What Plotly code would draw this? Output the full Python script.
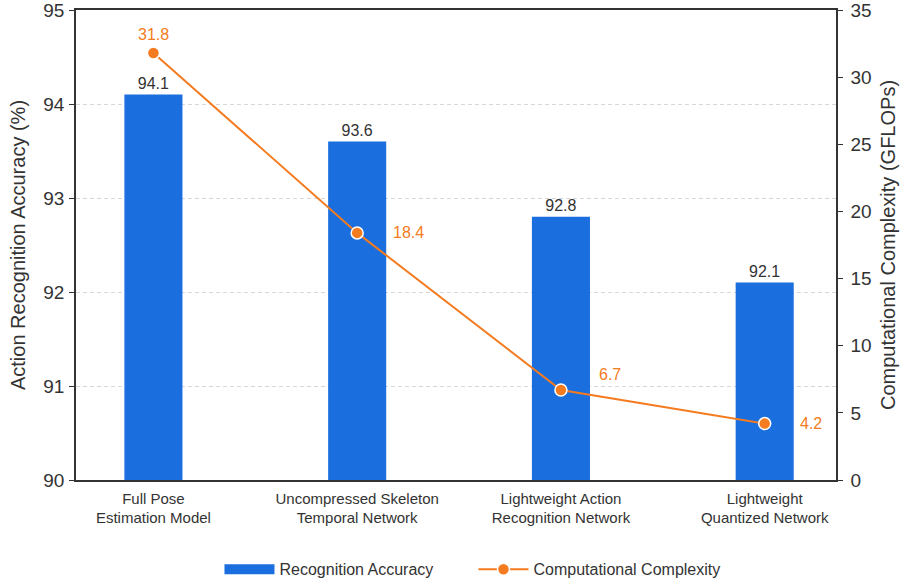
import plotly.graph_objects as go

# Model variants compared
models = [
    "Full Pose<br>Estimation Model",
    "Uncompressed Skeleton<br>Temporal Network",
    "Lightweight Action<br>Recognition Network",
    "Lightweight<br>Quantized Network",
]
accuracy = [94.1, 93.6, 92.8, 92.1]          # %
complexity = [31.8, 18.4, 6.7, 4.2]          # GFLOPs

# label placement for the complexity values (pixel offsets from each marker)
label_dx = [0, 34, 36, 33]
label_dy = [18, 0, 16, 0]
label_anchor = ["center", "left", "left", "left"]

BLUE = "#1A6EDE"
ORANGE = "#F47B20"
TEXT = "#333333"
FONT = "Liberation Sans, Arial, sans-serif"

fig = go.Figure()

fig.add_trace(go.Bar(
    x=models, y=accuracy, name="Recognition Accuracy",
    marker=dict(color=BLUE, line=dict(width=0)),
    width=0.285,
    text=[f"{v:.1f}" for v in accuracy],
    textposition="outside",
    textfont=dict(size=16, color=TEXT, family=FONT),
    cliponaxis=False,
    showlegend=False,
    legendgroup="acc",
))

# wide swatch for the accuracy series in the legend
fig.add_trace(go.Scatter(
    x=[None], y=[None], name="Recognition Accuracy", mode="lines",
    line=dict(color=BLUE, width=16),
    legendgroup="acc", hoverinfo="skip",
))

fig.add_trace(go.Scatter(
    x=models, y=complexity, name="Computational Complexity",
    yaxis="y2", mode="lines+markers",
    line=dict(color=ORANGE, width=2),
    marker=dict(color=ORANGE, size=12, line=dict(color="white", width=1.5)),
    cliponaxis=False,
))

annotations = []
for m, v, dx, dy, anc in zip(models, complexity, label_dx, label_dy, label_anchor):
    annotations.append(dict(
        x=m, y=v, xref="x", yref="y2", text=f"{v:.1f}",
        showarrow=False, xanchor=anc, yanchor="middle",
        xshift=dx, yshift=dy,
        font=dict(size=16, color=ORANGE, family=FONT),
    ))

fig.update_layout(
    width=905, height=587,
    margin=dict(l=76, r=69, t=10, b=107, autoexpand=False),
    paper_bgcolor="white", plot_bgcolor="white",
    font=dict(family=FONT, color=TEXT, size=15),
    showlegend=True,
    annotations=annotations,
    legend=dict(
        orientation="h", x=0.523, xanchor="center", y=-0.19, yanchor="middle",
        font=dict(size=16, color=TEXT, family=FONT), itemwidth=50,
        entrywidth=189, traceorder="normal",
    ),
    xaxis=dict(
        type="category", range=[-0.38, 3.35],
        showline=True, linecolor=TEXT, linewidth=1.5, mirror=True,
        ticks="", tickfont=dict(size=15, color=TEXT, family=FONT),
        ticklabelstandoff=4,
        showgrid=False,
    ),
    yaxis=dict(
        range=[90, 95], dtick=1,
        title=dict(text="Action Recognition Accuracy (%)",
                   font=dict(size=20, color=TEXT, family=FONT), standoff=12),
        showline=True, linecolor=TEXT, linewidth=1.5,
        ticks="outside", ticklen=5, tickcolor=TEXT,
        tickfont=dict(size=19, color=TEXT, family=FONT),
        ticklabelstandoff=1, ticklabeloverflow="allow",
        showgrid=True, gridcolor="#D6D6DE", griddash="4px,3px", gridwidth=1,
        zeroline=False,
    ),
    yaxis2=dict(
        range=[0, 35], dtick=5, overlaying="y", side="right",
        title=dict(text="Computational Complexity (GFLOPs)",
                   font=dict(size=20, color=TEXT, family=FONT), standoff=10),
        showline=True, linecolor=TEXT, linewidth=1.5,
        ticks="outside", ticklen=5, tickcolor=TEXT,
        tickfont=dict(size=19, color=TEXT, family=FONT),
        ticklabelstandoff=4, ticklabeloverflow="allow",
        showgrid=False, zeroline=False,
    ),
)

fig.write_html("out.html")
